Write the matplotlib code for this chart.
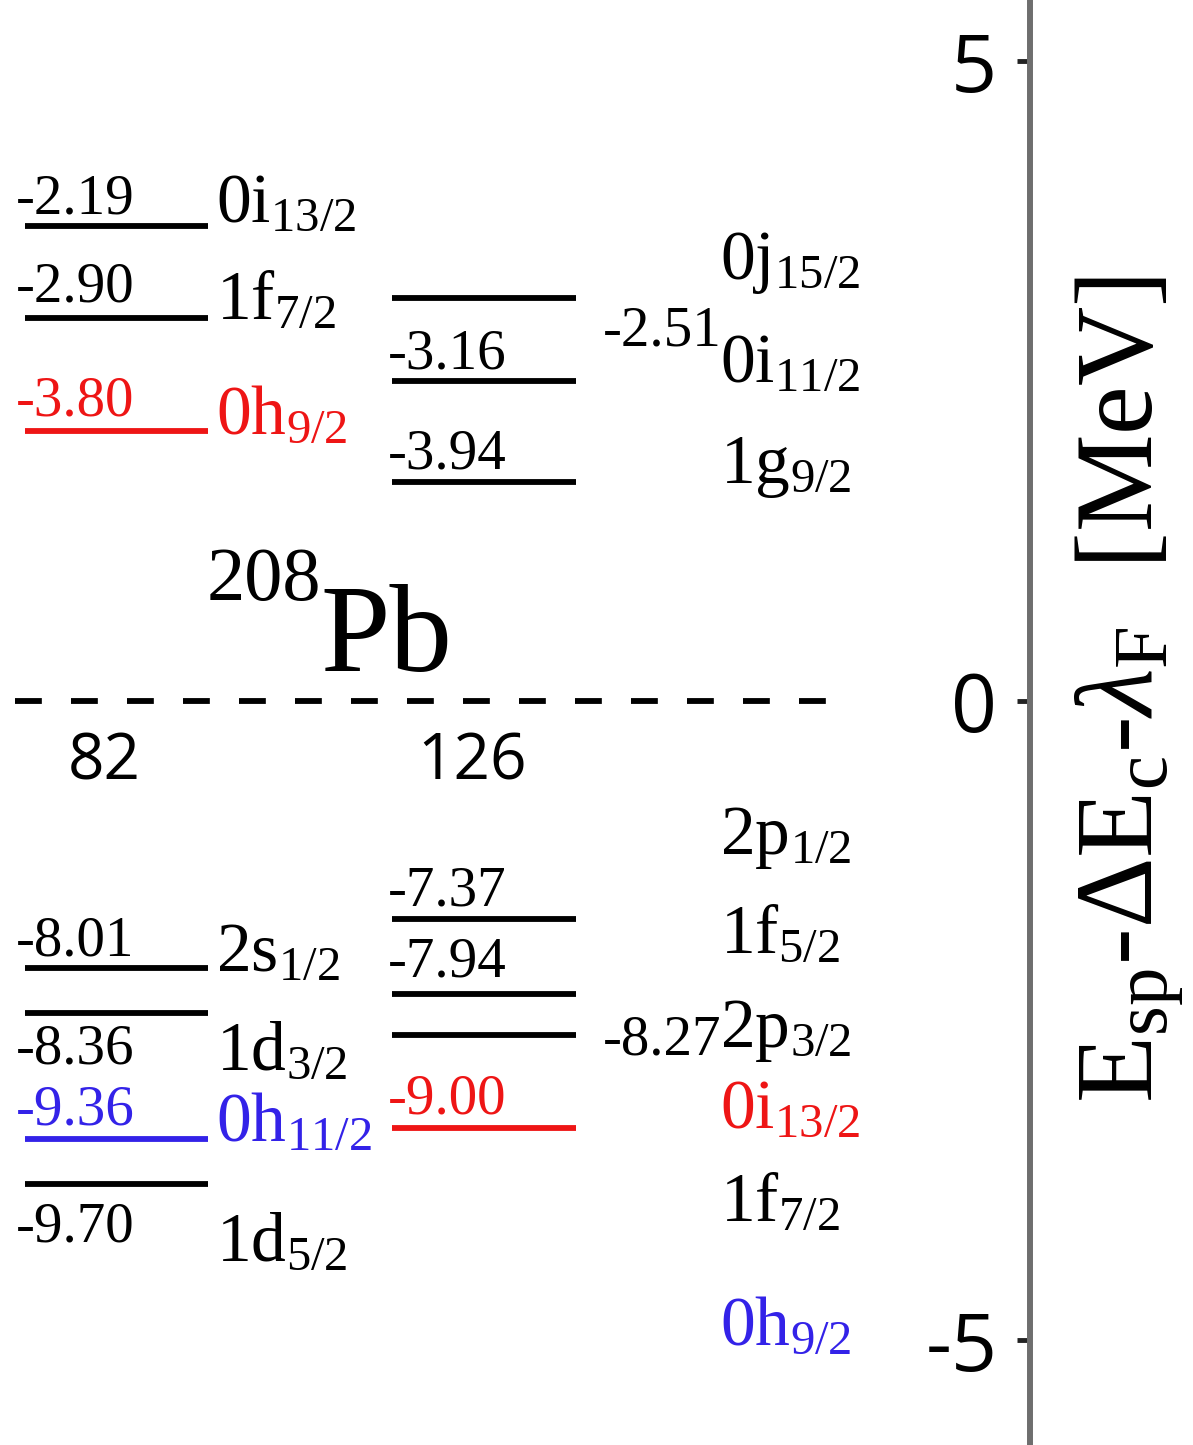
import matplotlib
matplotlib.use('Agg')
import matplotlib.pyplot as plt

plt.rcParams['font.family'] = ['Liberation Serif', 'DejaVu Serif']
plt.rcParams['mathtext.fontset'] = 'custom'
plt.rcParams['mathtext.rm'] = 'Liberation Serif'
plt.rcParams['mathtext.it'] = 'Liberation Serif:italic'
plt.rcParams['mathtext.bf'] = 'Liberation Serif:bold'

# level positions on the axis scale
left_levels = [3.71, 2.99, 2.11, -2.09, -2.44, -3.43, -3.78]
mid_levels = [3.15, 2.50, 1.71, -1.71, -2.29, -2.61, -3.34]

# energies written next to the levels
left_energies = ['-2.19', '-2.90', '-3.80', '-8.01', '-8.36', '-9.36', '-9.70']
mid_energies = ['-2.51', '-3.16', '-3.94', '-7.37', '-7.94', '-8.27', '-9.00']

left_states = ['0i_{13/2}', '1f_{7/2}', '0h_{9/2}', '2s_{1/2}', '1d_{3/2}', '0h_{11/2}', '1d_{5/2}']
right_states = ['0j_{15/2}', '0i_{11/2}', '1g_{9/2}', '2p_{1/2}', '1f_{5/2}', '2p_{3/2}',
                '0i_{13/2}', '1f_{7/2}', '0h_{9/2}']

magic = ['82', '126']
ticks = [-5, 0, 5]
tick_labels = ['-5', '0', '5']

RED = '#ee1515'
BLUE = '#3322e8'
left_colors = ['k', 'k', RED, 'k', 'k', BLUE, 'k']
mid_colors = ['k', 'k', 'k', 'k', 'k', 'k', RED]
right_colors = ['k', 'k', 'k', 'k', 'k', 'k', RED, 'k', BLUE]

# layout: baselines of the labels, x in pixels
left_num_y = [3.81, 3.125, 2.23, -1.99, -2.84, -3.31, -4.23]
mid_num_pos = [(603, 2.78), (388, 2.60), (388, 1.82), (388, -1.60),
               (388, -2.16), (603, -2.77), (388, -3.23)]
left_state_y = [3.75, 2.99, 2.09, -2.11, -2.88, -3.44, -4.375]
right_state_y = [3.30, 2.50, 1.70, -1.20, -1.97, -2.71, -3.34, -4.06, -5.03]

fig = plt.figure(figsize=(11.93, 14.45), dpi=100)
ax = fig.add_axes([0, 0, 1, 1])
ax.set_xlim(0, 1193)
ax.set_ylim(-5.82, 5.48)

for y, c in zip(left_levels, left_colors):
    ax.plot([25, 208], [y, y], color=c, lw=4.2, solid_capstyle='butt')
for y, c in zip(mid_levels, mid_colors):
    ax.plot([392, 576], [y, y], color=c, lw=4.2, solid_capstyle='butt')

for s, y, c in zip(left_energies, left_num_y, left_colors):
    ax.text(16, y, s, fontsize=41, color=c, ha='left', va='baseline')
for s, (x, y), c in zip(mid_energies, mid_num_pos, mid_colors):
    ax.text(x, y, s, fontsize=41, color=c, ha='left', va='baseline')

for s, y, c in zip(left_states, left_state_y, left_colors):
    ax.text(216, y, r'$\mathrm{' + s + '}$', fontsize=50, color=c, ha='left', va='baseline')
for s, y, c in zip(right_states, right_state_y, right_colors):
    ax.text(720, y, r'$\mathrm{' + s + '}$', fontsize=50, color=c, ha='left', va='baseline')

# nucleus label
ax.text(207, 0.79, '208', fontsize=55, ha='left', va='baseline')
ax.text(320, 0.234, 'Pb', fontsize=90, ha='left', va='baseline')

# Fermi level
ax.plot([15, 854], [0, 0], color='k', lw=4.2, dashes=(4.6, 5.0))
for s, x in zip(magic, [104, 472]):
    ax.text(x, -0.48, s, fontsize=46, family=['Open Sans', 'DejaVu Sans'],
            ha='center', va='center')

# energy axis
for side in ['top', 'right', 'bottom']:
    ax.spines[side].set_visible(False)
ax.spines['left'].set_position(('data', 1030))
ax.spines['left'].set_color('#6e6e6e')
ax.spines['left'].set_linewidth(4.3)
ax.set_xticks([])
ax.set_yticks(ticks)
ax.set_yticklabels(tick_labels, family=['Liberation Sans Narrow', 'Open Sans', 'DejaVu Sans'],
                   fontsize=58)
ax.tick_params(axis='y', direction='out', length=9.5, width=3.5, color='#222222', pad=14)
ax.text(1130, 0.086, r'$\mathrm{E_{sp}}$-$\Delta\mathrm{E_c}$-$\lambda_\mathrm{F}$  [MeV]',
        fontsize=79, rotation=90, ha='center', va='center')

fig.savefig('out.png', dpi=100)
